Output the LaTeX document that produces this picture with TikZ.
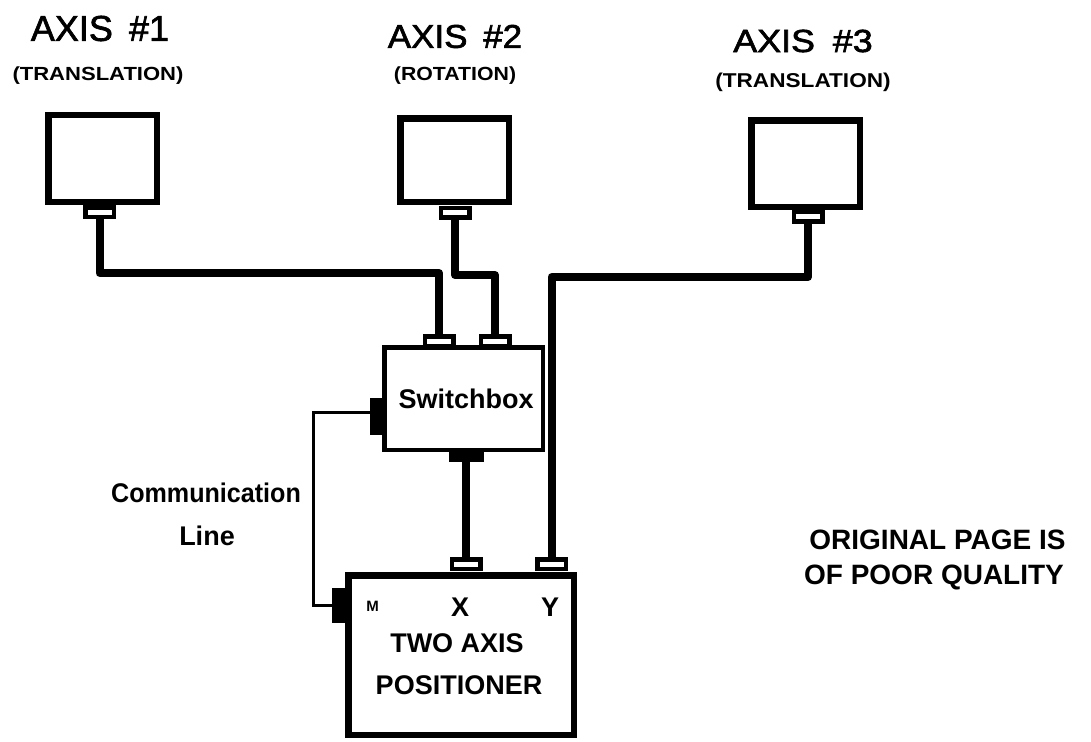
\documentclass[tikz,border=0pt]{standalone}
\usepackage{fontspec}
\setmainfont{Liberation Sans}
\newfontfamily\semib[FakeBold=1.8]{Liberation Sans}
\newcommand{\fsz}[1]{\fontsize{#1}{#1}\selectfont}
\begin{document}
\begin{tikzpicture}[x=1pt,y=-1pt,
  cable/.style={line width=8pt, line join=round},
  commline/.style={line width=3pt},
  axisbox/.style={draw, line width=6.5pt, minimum width=108.5pt, inner sep=0pt},
  plug/.style={draw, fill=white, line width=4.5pt, minimum width=28.5pt, minimum height=9.5pt, inner sep=0pt},
  blackplug/.style={fill=black, inner sep=0pt},
  lbl/.style={inner sep=0pt, font=\bfseries\fsz{27}},
  title/.style={inner sep=0pt},
  sub/.style={inner sep=0pt, font=\bfseries\fsz{19}}]
\useasboundingbox (0,0) rectangle (1091,741);

% titles
\node[title, font=\semib\fsz{36}] (t1) at (100,28.5) {AXIS\hspace{0.45em}\#1};
\node[title, font=\semib\fsz{33}, xscale=1.06] (t2) at (455,36.5) {AXIS\hspace{0.45em}\#2};
\node[title, font=\semib\fsz{32}, xscale=1.12] (t3) at (803,41) {AXIS\hspace{0.5em}\#3};
\node[sub, xscale=1.16] (u1) at (98,75.5) {(TRANSLATION)};
\node[sub, xscale=1.12] (u2) at (455,76) {(ROTATION)};
\node[sub, font=\bfseries\fsz{20}, xscale=1.13] (u3) at (803,82) {(TRANSLATION)};

% axis boxes
\node[axisbox, minimum height=86.5pt] (a1) at (102.5,158.5) {};
\node[axisbox, minimum height=83.5pt] (a2) at (454.5,160) {};
\node[axisbox, minimum height=86.5pt] (a3) at (805.5,163.5) {};

% switchbox and positioner
\node[draw, line width=4.5pt, minimum width=158.5pt, minimum height=102.5pt, inner sep=0pt] (sw) at (463.5,398.5) {};
\node[lbl] (swl) at (466,399) {Switchbox};
\node[draw, line width=6.5pt, minimum width=225.5pt, minimum height=159.5pt, inner sep=0pt] (pos) at (461,655) {};
\node[lbl, font=\bfseries\fsz{15}] (lm) at (372.5,606.5) {M};
\node[lbl] (lx) at (460,607.5) {X};
\node[lbl] (ly) at (550,607) {Y};
\node[lbl] (l2) at (457,643.5) {TWO AXIS};
\node[lbl] (l3) at (459,685.5) {POSITIONER};

% other labels
\node[lbl, xscale=0.93] (cl1) at (206,493) {Communication};
\node[lbl] (cl2) at (207,536) {Line};
\node[lbl, font=\bfseries\fsz{28}] (op1) at (937.5,540) {ORIGINAL PAGE IS};
\node[lbl, font=\bfseries\fsz{28}] (op2) at (934,577.5) {OF POOR QUALITY};

% plugs
\node[plug] (c1) at (99.5,212) {};
\node[plug] (c2) at (455,212.5) {};
\node[plug] (c3) at (808,216.5) {};
\node[plug] (s1) at (439,341) {};
\node[plug] (s2) at (495,341) {};
\node[plug] (cx) at (466,564) {};
\node[plug] (cy) at (551.5,564) {};
\node[blackplug, minimum width=35pt, minimum height=14pt] (sb) at (466,455) {};
\node[blackplug, minimum width=12pt, minimum height=37pt] (sl) at (376,416.5) {};
\node[blackplug, minimum width=13pt, minimum height=35pt] (cm) at (338.5,605.5) {};

% bend coordinates
\coordinate (h1) at (0,273);
\coordinate (h2) at (0,275);
\coordinate (h3) at (0,277);
\coordinate (k) at (313,412);

% cables
\draw[cable] (c1.south) -- (c1.south |- h1) -| (s1.north);
\draw[cable] (c2.south) -- (c2.south |- h2) -| (s2.north);
\draw[cable] (c3.south) -- (c3.south |- h3) -| (cy.north);
\draw[cable] (sb.south) -- (cx.north);
\draw[commline] (sl.west |- k) -- (k) |- (cm.west);
\end{tikzpicture}
\end{document}
